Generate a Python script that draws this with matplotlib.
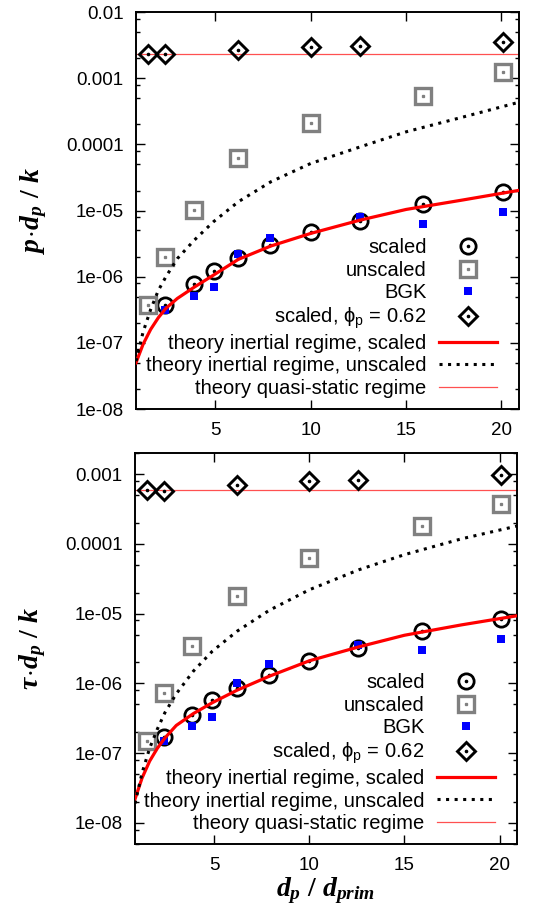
import numpy as np
import matplotlib
matplotlib.use('Agg')
import matplotlib.pyplot as plt
from matplotlib.ticker import FixedLocator, FixedFormatter, NullFormatter

plt.rcParams['font.family'] = ['Liberation Sans', 'DejaVu Sans']
plt.rcParams['mathtext.fontset'] = 'custom'
plt.rcParams['mathtext.rm'] = 'Liberation Serif:bold'
plt.rcParams['mathtext.it'] = 'Liberation Serif:italic:bold'
plt.rcParams['mathtext.bf'] = 'Liberation Serif:bold'
plt.rcParams['mathtext.sf'] = 'Liberation Sans'

# --- pressure panel ---
x_scaled = [2.36, 3.85, 4.9, 6.2, 7.87, 10.0, 12.57, 15.9, 20.1]
p_scaled = [3.7e-7, 7.7e-7, 1.23e-6, 1.94e-6, 3.0e-6, 4.8e-6, 7.0e-6, 1.25e-5, 1.88e-5]
x_unscaled = [1.45, 2.36, 3.85, 6.2, 10.0, 15.9, 20.1]
p_unscaled = [3.7e-7, 2.0e-6, 1.02e-5, 6.2e-5, 2.08e-4, 5.4e-4, 1.25e-3]
x_bgk = [2.36, 3.85, 4.9, 6.2, 7.87, 12.57, 15.9, 20.1]
p_bgk = [3.1e-7, 5.2e-7, 7.1e-7, 2.2e-6, 3.9e-6, 7.9e-6, 6.2e-6, 9.6e-6]
x_dense = [1.45, 2.36, 6.2, 10.0, 12.57, 20.1]
p_dense = [2.3e-3, 2.3e-3, 2.67e-3, 3.0e-3, 3.06e-3, 3.56e-3]
p_qs = 2.36e-3

# theory curves
x_th = [0.83, 1.2, 1.6, 2.0, 2.4, 3.0, 3.9, 4.9, 6.2, 7.9, 10.0, 12.6, 15.0, 18.0, 21.0]
p_th_scaled = [5.0e-8, 9.5e-8, 1.6e-7, 2.4e-7, 3.33e-7, 4.7e-7, 7.0e-7, 1.06e-6, 1.83e-6,
               2.91e-6, 4.52e-6, 7.19e-6, 1.04e-5, 1.45e-5, 2.04e-5]
p_th_unscaled = [5.3e-8, 1.45e-7, 3.2e-7, 6.2e-7, 1.0e-6, 1.88e-6, 3.6e-6, 6.8e-6, 1.36e-5,
                 2.72e-5, 5.16e-5, 9.2e-5, 1.55e-4, 2.6e-4, 4.4e-4]

# --- shear stress panel ---
t_scaled = [1.71e-7, 3.5e-7, 5.7e-7, 8.7e-7, 1.33e-6, 2.13e-6, 3.24e-6, 5.6e-6, 8.4e-6]
t_unscaled = [1.48e-7, 7.3e-7, 3.4e-6, 1.8e-5, 6.2e-5, 1.8e-4, 3.77e-4]
t_bgk = [1.5e-7, 2.46e-7, 3.3e-7, 1.02e-6, 1.87e-6, 3.5e-6, 3.03e-6, 4.26e-6]
t_dense = [5.85e-4, 5.75e-4, 6.97e-4, 7.94e-4, 8.1e-4, 9.57e-4]
t_qs = 5.9e-4
t_th_scaled = [2.2e-8, 4.4e-8, 7.7e-8, 1.17e-7, 1.65e-7, 2.5e-7, 3.7e-7, 5.3e-7, 8.0e-7,
               1.27e-6, 2.11e-6, 3.34e-6, 4.9e-6, 6.9e-6, 9.4e-6]
t_th_unscaled = [1.9e-8, 5.2e-8, 1.18e-7, 2.2e-7, 3.8e-7, 7.1e-7, 1.5e-6, 2.9e-6, 5.6e-6,
                 1.12e-5, 2.2e-5, 4.25e-5, 7.0e-5, 1.18e-4, 1.82e-4]

x_ticks = [5, 10, 15, 20]
x_ticklabels = ['5', '10', '15', '20']
p_yticks = [1e-8, 1e-7, 1e-6, 1e-5, 1e-4, 1e-3, 1e-2]
p_yticklabels = ['1e-08', '1e-07', '1e-06', '1e-05', '0.0001', '0.001', '0.01']
t_yticks = [1e-8, 1e-7, 1e-6, 1e-5, 1e-4, 1e-3]
t_yticklabels = ['1e-08', '1e-07', '1e-06', '1e-05', '0.0001', '0.001']

labels = ['scaled', 'unscaled', 'BGK', r'scaled, ϕ$_\mathsf{p}$ = 0.62',
          'theory inertial regime, scaled', 'theory inertial regime, unscaled',
          'theory quasi-static regime']


def panel(ax, ys, yu, yb, yd, qs, th_s, th_u, yticks, yticklabels, ylim, ylabel):
    c1, = ax.plot(x_scaled, ys, 'o', ms=11, mfc='none', mec='black', mew=2.0, zorder=3)
    c2, = ax.plot(x_scaled, ys, 'o', ms=1.6, color='black', zorder=3)
    s1, = ax.plot(x_unscaled, yu, 's', ms=11.5, mfc='none', mec='#808080', mew=2.4, zorder=3)
    s2, = ax.plot(x_unscaled, yu, 's', ms=1.4, color='#808080', zorder=3)
    b1, = ax.plot(x_bgk, yb, 's', ms=6.3, color='#0000ff', mew=0, zorder=4)
    d1, = ax.plot(x_dense, yd, 'D', ms=8.8, mfc='none', mec='black', mew=2.1, zorder=4)
    d2, = ax.plot(x_dense, yd, 'o', ms=1.6, color='black', zorder=4)
    l1, = ax.plot(x_th, th_s, '-', color='#ff0000', lw=2.3, zorder=5)
    l2, = ax.plot(x_th, th_u, color='black', lw=2.2, ls=(0, (1, 1.8)), zorder=5)
    l3 = ax.axhline(qs, color='#ff5050', lw=0.9, zorder=2)

    ax.set_yscale('log')
    ax.set_xlim(0.83, 20.92)
    ax.set_ylim(*ylim)
    ax.yaxis.set_major_locator(FixedLocator(yticks))
    ax.yaxis.set_major_formatter(FixedFormatter(yticklabels))
    minors = [d * m for d in yticks + [yticks[-1] * 10] for m in (0.2, 0.5, 0.8)]
    ax.yaxis.set_minor_locator(FixedLocator(minors))
    ax.yaxis.set_minor_formatter(NullFormatter())
    ax.xaxis.set_major_locator(FixedLocator(x_ticks))
    ax.xaxis.set_major_formatter(FixedFormatter(x_ticklabels))
    ax.tick_params(which='both', direction='in', top=True, right=True, width=1.0,
                   labelsize=13.5, colors='black')
    ax.tick_params(which='major', length=6.5)
    ax.tick_params(which='minor', length=3.2)
    ax.tick_params(axis='y', pad=9)
    ax.tick_params(axis='x', pad=9)
    for sp in ax.spines.values():
        sp.set_linewidth(1.4)
    ax.set_ylabel(ylabel, fontsize=20, labelpad=12)

    leg = ax.legend([(c1, c2), (s1, s2), b1, (d1, d2), l1, l2, l3], labels,
                    loc='lower right', bbox_to_anchor=(0.953, 0.018),
                    frameon=False, markerfirst=False,
                    fontsize=14.5, handlelength=2.9, handletextpad=0.6,
                    labelspacing=0.17, borderaxespad=0, borderpad=0.2)
    return leg


fig = plt.figure(figsize=(5.47, 9.09), dpi=100)
ax1 = fig.add_axes([0.2486, 0.550, 0.7002, 0.4367])
ax2 = fig.add_axes([0.2468, 0.0715, 0.6984, 0.4301])

panel(ax1, p_scaled, p_unscaled, p_bgk, p_dense, p_qs, p_th_scaled, p_th_unscaled,
      p_yticks, p_yticklabels, (1e-8, 1e-2), r'$p\!\cdot\! d_p\ /\ k$')
panel(ax2, t_scaled, t_unscaled, t_bgk, t_dense, t_qs, t_th_scaled, t_th_unscaled,
      t_yticks, t_yticklabels, (5e-9, 2e-3), r'$\tau\!\cdot\! d_p\ /\ k$')
ax2.set_xlabel(r'$d_p\ /\ d_{prim}$', fontsize=20, labelpad=1)

fig.savefig('out.png', dpi=100)
